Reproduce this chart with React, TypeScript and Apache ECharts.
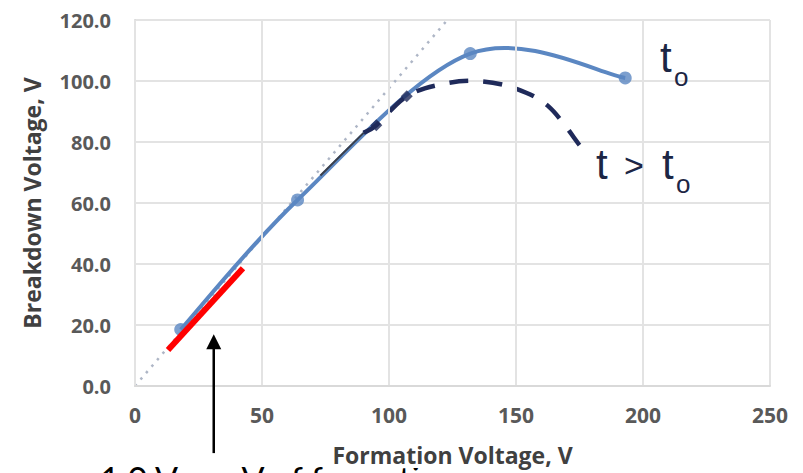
import React, { useEffect, useRef } from "react";
import * as echarts from "echarts";

// ---- data ----
const xTicks = [0, 50, 100, 150, 200, 250];
const yTicks = [0, 20, 40, 60, 80, 100, 120];

// t = t0 series (blue, smooth with markers)
const seriesT0: [number, number][] = [
  [18, 18.5],
  [64, 61],
  [132, 109],
  [193, 101],
];

// t > t0: short thin dark segment, then dark dashed curve
const thinSegment: [number, number][] = [
  [73, 69],
  [90, 83],
];
const seriesTgt: [number, number][] = [
  [90, 83],
  [95, 85.5],
  [107, 95],
  [121, 99],
  [135, 100],
  [150, 97.5],
  [163, 91.5],
  [175, 79],
];
const seriesTgtMarkers: [number, number][] = [
  [95, 85.5],
  [107, 95],
];

// reference 1:1-ish dotted line
const refLine: [number, number][] = [
  [0, 0],
  [125, 122],
];
// red slope line
const redLine: [number, number][] = [
  [13, 11.8],
  [42.5, 38.6],
];
// arrow (data coords): x, tip y, tail y
const arrowX = 31;
const arrowTipY = 17;
const arrowTailY = -22;

const FONT = "'Open Sans', Lato, sans-serif";
const TEXT_DARK = "#1c2645";

// Catmull-Rom spline through pixel points -> SVG path
function smoothPath(pts: number[][]): string {
  if (pts.length < 2) return "";
  let d = `M${pts[0][0]},${pts[0][1]}`;
  for (let i = 0; i < pts.length - 1; i++) {
    const p0 = pts[i - 1] || pts[i];
    const p1 = pts[i];
    const p2 = pts[i + 1];
    const p3 = pts[i + 2] || pts[i + 1];
    const c1x = p1[0] + (p2[0] - p0[0]) / 6;
    const c1y = p1[1] + (p2[1] - p0[1]) / 6;
    const c2x = p2[0] - (p3[0] - p1[0]) / 6;
    const c2y = p2[1] - (p3[1] - p1[1]) / 6;
    d += ` C${c1x},${c1y} ${c2x},${c2y} ${p2[0]},${p2[1]}`;
  }
  return d;
}

function smoothSeries(
  data: [number, number][],
  style: Record<string, unknown>,
  z: number
) {
  return {
    type: "custom",
    data,
    encode: { x: 0, y: 1 },
    z,
    silent: true,
    renderItem: (params: any, api: any) => {
      if (params.dataIndex !== 0) return null;
      const pts = data.map((p) => api.coord(p));
      return {
        type: "path",
        shape: { pathData: smoothPath(pts) },
        style: { fill: "none", ...style },
      };
    },
  };
}

export default function App() {
  const ref = useRef<HTMLDivElement>(null);
  useEffect(() => {
    if (!ref.current) return;
    const chart = echarts.init(ref.current, undefined, { renderer: "svg" });
    chart.setOption({
      animation: false,
      backgroundColor: "#ffffff",
      grid: { left: 135, right: 33, top: 20, bottom: 85 },
      xAxis: {
        type: "value",
        min: xTicks[0],
        max: xTicks[xTicks.length - 1],
        interval: 50,
        z: 5,
        name: "Formation Voltage, V",
        nameLocation: "middle",
        nameGap: 55,
        nameTextStyle: {
          fontFamily: FONT,
          fontWeight: "bold",
          fontSize: 23,
          color: "#404040",
          backgroundColor: "#ffffff",
          padding: [2, 4],
        },
        axisLine: { show: true, lineStyle: { color: "#d9d9d9", width: 2 } },
        axisTick: { show: false },
        axisLabel: {
          margin: 18,
          fontFamily: FONT,
          fontWeight: "bold",
          fontSize: 21,
          color: "#595959",
        },
        splitLine: { show: true, lineStyle: { color: "#e3e3e3", width: 2 } },
      },
      yAxis: {
        type: "value",
        min: yTicks[0],
        max: yTicks[yTicks.length - 1],
        interval: 20,
        name: "Breakdown Voltage, V",
        nameLocation: "middle",
        nameGap: 92,
        nameTextStyle: {
          fontFamily: FONT,
          fontWeight: "bold",
          fontSize: 23,
          color: "#404040",
        },
        axisLine: { show: true, lineStyle: { color: "#d9d9d9", width: 2 } },
        axisTick: { show: false },
        axisLabel: {
          margin: 24,
          fontFamily: FONT,
          fontWeight: "bold",
          fontSize: 20,
          color: "#595959",
          formatter: (v: number) => v.toFixed(1),
        },
        splitLine: { show: true, lineStyle: { color: "#e3e3e3", width: 2 } },
      },
      series: [
        {
          type: "line",
          data: refLine,
          showSymbol: false,
          lineStyle: { color: "#aeb6c6", width: 2.5, type: [2.5, 6] },
          z: 1,
        },
        smoothSeries(seriesT0, { stroke: "#5b87c2", lineWidth: 4 }, 3),
        {
          type: "scatter",
          data: seriesT0,
          symbol: "circle",
          symbolSize: 13,
          itemStyle: { color: "#5b87c2" },
          z: 3,
        },
        {
          type: "line",
          data: thinSegment,
          showSymbol: false,
          lineStyle: { color: "#3a3f4a", width: 2 },
          z: 4,
        },
        smoothSeries(
          seriesTgt,
          { stroke: "#1f2a5a", lineWidth: 4.5, lineDash: [19, 15] },
          4
        ),
        {
          type: "scatter",
          data: seriesTgtMarkers,
          symbol: "diamond",
          symbolSize: 12,
          itemStyle: { color: "#1f2a5a" },
          z: 4,
        },
        {
          type: "line",
          data: redLine,
          showSymbol: false,
          lineStyle: { color: "#ff0000", width: 6, cap: "butt" },
          z: 6,
        },
      ],
    });

    const tip = chart.convertToPixel({ gridIndex: 0 }, [arrowX, arrowTipY]) as number[];
    const tail = chart.convertToPixel({ gridIndex: 0 }, [arrowX, arrowTailY]) as number[];
    chart.setOption({
      graphic: [
        {
          type: "line",
          shape: { x1: tip[0], y1: tip[1] + 12, x2: tail[0], y2: tail[1] },
          style: { stroke: "#000000", lineWidth: 2.5 },
          z: 10,
        },
        {
          type: "polygon",
          shape: {
            points: [
              [tip[0], tip[1]],
              [tip[0] - 7.5, tip[1] + 15],
              [tip[0] + 7.5, tip[1] + 15],
            ],
          },
          style: { fill: "#000000" },
          z: 10,
        },
        {
          type: "text",
          x: 100,
          y: 461,
          z: 1,
          style: {
            text: "1.0 V per V of formation",
            font: `34px Lato, sans-serif`,
            fill: "#000000",
            textVerticalAlign: "top",
          },
        },
        {
          type: "text",
          x: 660,
          y: 36,
          z: 10,
          style: { text: "t", font: `42px 'Liberation Sans', sans-serif`, fill: TEXT_DARK },
        },
        {
          type: "text",
          x: 674,
          y: 64,
          z: 10,
          style: { text: "o", font: `26px 'Liberation Sans', sans-serif`, fill: TEXT_DARK },
        },
        {
          type: "text",
          x: 596,
          y: 143,
          z: 10,
          style: { text: "t", font: `42px 'Liberation Sans', sans-serif`, fill: TEXT_DARK },
        },
        {
          type: "text",
          x: 624,
          y: 148,
          z: 10,
          style: { text: ">", font: `34px 'Liberation Sans', sans-serif`, fill: TEXT_DARK },
        },
        {
          type: "text",
          x: 662,
          y: 143,
          z: 10,
          style: { text: "t", font: `42px 'Liberation Sans', sans-serif`, fill: TEXT_DARK },
        },
        {
          type: "text",
          x: 676,
          y: 171,
          z: 10,
          style: { text: "o", font: `26px 'Liberation Sans', sans-serif`, fill: TEXT_DARK },
        },
      ],
    });
    return () => chart.dispose();
  }, []);
  return (
    <div
      ref={ref}
      style={{ position: "absolute", left: 0, top: 0, width: 803, height: 473 }}
    />
  );
}
